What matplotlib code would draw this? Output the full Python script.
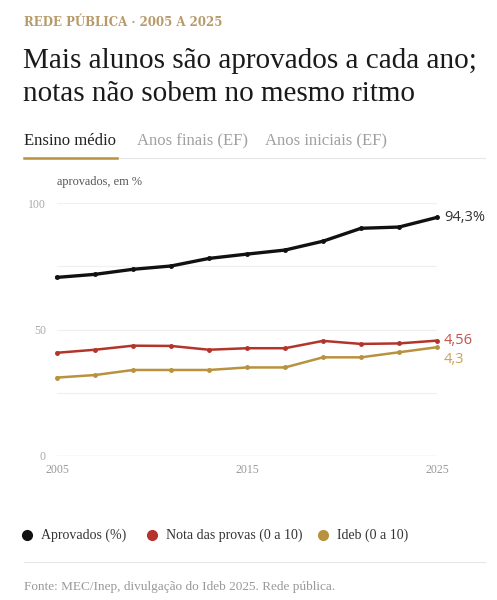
import matplotlib.pyplot as plt
from matplotlib.lines import Line2D

# data (scores on a 0-10 scale, drawn x10)
years = [2005, 2007, 2009, 2011, 2013, 2015, 2017, 2019, 2021, 2023, 2025]
aprovados = [70.6, 71.8, 73.8, 75.1, 78.1, 79.8, 81.4, 84.9, 90.0, 90.5, 94.3]
nota = [4.08, 4.20, 4.36, 4.35, 4.20, 4.26, 4.26, 4.55, 4.43, 4.45, 4.56]
ideb = [3.1, 3.2, 3.4, 3.4, 3.4, 3.5, 3.5, 3.9, 3.9, 4.1, 4.3]
y_ticks = [0, 50, 100]
x_ticks = [2005, 2015, 2025]
tabs = ["Ensino médio", "Anos finais (EF)", "Anos iniciais (EF)"]
legend_labels = ["Aprovados (%)", "Nota das provas (0 a 10)", "Ideb (0 a 10)"]

BLACK = "#111111"
RED = "#b3342b"
GOLD = "#b8923e"
SERIF = "Liberation Serif"

fig = plt.figure(figsize=(4.97, 6), dpi=100)
W, H = 497, 600


def px(x, y):
    return x / W, 1 - y / H


# header
fig.text(*px(24, 22), "REDE PÚBLICA · 2005 A 2025", family="DejaVu Serif", fontsize=8.5,
         color="#b89a6a", weight="bold", va="center", ha="left")
fig.text(*px(23, 68), "Mais alunos são aprovados a cada ano;", family=SERIF, fontsize=21,
         color="#1a1a1a", va="baseline", ha="left")
fig.text(*px(23, 101), "notas não sobem no mesmo ritmo", family=SERIF, fontsize=21,
         color="#1a1a1a", va="baseline", ha="left")

# tabs
tab_x = [24, 137, 265]
tab_col = ["#222222", "#a0a0a0", "#a0a0a0"]
for t, x, c in zip(tabs, tab_x, tab_col):
    fig.text(*px(x, 145), t, family=SERIF, fontsize=12, color=c, va="baseline", ha="left")
fig.add_artist(Line2D([24 / W, 485 / W], [1 - 158 / H] * 2, color="#e6e6e6", lw=0.8))
fig.add_artist(Line2D([24 / W, 117 / W], [1 - 157.5 / H] * 2, color=GOLD, lw=1.8))

# chart
ax = fig.add_axes([57 / W, 1 - 456 / H, (437 - 57) / W, (456 - 203) / H])
ax.set_xlim(2005, 2025)
ax.set_ylim(0, 100)
for g in [25, 50, 75, 100]:
    ax.axhline(g, color="#f0f0f0", lw=0.9, zorder=0)
ax.axhline(0, color="#dddddd", lw=1.0, zorder=0)

ax.plot(years, aprovados, color=BLACK, lw=2.4, marker="o", ms=2.5, clip_on=False)
ax.plot(years, [v * 10 for v in nota], color=RED, lw=1.8, marker="o", ms=2.5, clip_on=False)
ax.plot(years, [v * 10 for v in ideb], color=GOLD, lw=1.8, marker="o", ms=2.5, clip_on=False)

for s in ax.spines.values():
    s.set_visible(False)
ax.set_yticks(y_ticks)
ax.set_yticklabels([str(v) for v in y_ticks], family=SERIF, fontsize=8.5, color="#aaaaaa")
ax.set_xticks(x_ticks)
ax.set_xticklabels([str(v) for v in x_ticks], family=SERIF, fontsize=8.5, color="#999999")
ax.tick_params(length=0, pad=8)
ax.tick_params(axis="x", pad=6)

ax.text(0, 106, "aprovados, em %", family=SERIF, fontsize=8.8, color="#555555",
        transform=ax.get_yaxis_transform(), va="bottom", ha="left")

ax.annotate(f"{aprovados[-1]:.1f}%".replace(".", ","), (years[-1], aprovados[-1]),
            xytext=(5, 0), textcoords="offset points", va="center", ha="left",
            family="Open Sans", fontsize=10.5, color="#333333", annotation_clip=False)
ax.annotate(f"{nota[-1]:.2f}".replace(".", ","), (years[-1], nota[-1] * 10),
            xytext=(5, 0), textcoords="offset points", va="center", ha="left",
            family="Open Sans", fontsize=10.5, color="#c4544c", annotation_clip=False)
ax.annotate(f"{ideb[-1]:.1f}".replace(".", ","), (years[-1], ideb[-1] * 10),
            xytext=(5, -9), textcoords="offset points", va="center", ha="left",
            family="Open Sans", fontsize=10.5, color="#c9a35a", annotation_clip=False)

# legend
leg_x = [27, 152, 323]
for lab, x, c in zip(legend_labels, leg_x, [BLACK, RED, GOLD]):
    fig.add_artist(Line2D([x / W], [1 - 535 / H], marker="o", ms=7, color=c, lw=0))
    fig.text(*px(x + 14, 535), lab, family=SERIF, fontsize=10, color="#333333",
             va="center", ha="left")
fig.add_artist(Line2D([24 / W, 485 / W], [1 - 562 / H] * 2, color="#e6e6e6", lw=0.8))

fig.text(*px(24, 587), "Fonte: MEC/Inep, divulgação do Ideb 2025. Rede pública.", family=SERIF,
         fontsize=9.5, color="#999999", va="center", ha="left")

fig.savefig("out.png", dpi=100, facecolor="white")
